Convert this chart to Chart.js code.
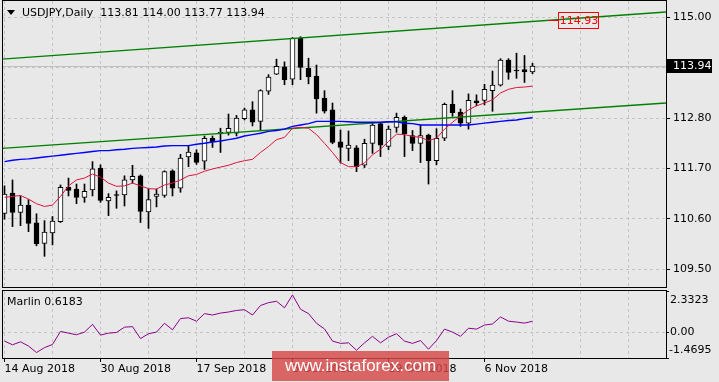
<!DOCTYPE html>
<html>
<head>
<meta charset="utf-8">
<script src="https://cdn.jsdelivr.net/npm/chart.js@4.4.1/dist/chart.umd.min.js"></script>
<style>
  html, body { margin: 0; padding: 0; background: #e8e8e8; }
  #wrap { position: relative; width: 719px; height: 382px; overflow: hidden; background: #e8e8e8; font-family: 'DejaVu Sans', sans-serif; }
  #main { position: absolute; left: 0; top: 0; }
  #osc { position: absolute; left: 0; top: 289px; }
  .txt { position: absolute; font-size: 11px; color: #000; white-space: pre; line-height: 13px; }
  #tri { position: absolute; left: 7px; top: 10px; width: 0; height: 0; border-left: 4px solid transparent; border-right: 4px solid transparent; border-top: 5px solid #000; }
  #wm { position: absolute; left: 272px; top: 351px; width: 177px; height: 30px; background: rgba(214, 72, 72, 0.82);
        color: #fff; font-family: 'Liberation Sans', sans-serif; font-size: 17px; line-height: 30px; text-align: center; }
</style>
</head>
<body>
<div id="wrap">
  <canvas id="main" width="719" height="289"></canvas>
  <canvas id="osc" width="719" height="93"></canvas>
  <div id="tri"></div>
  <div class="txt" id="title" style="left:22px; top:6px;"></div>
  <div class="txt" id="oscTitle" style="left:7px; top:295px;"></div>
  <div id="wm">www.instaforex.com</div>
</div>
<script>
// USDJPY daily candles, 14 Aug 2018 .. 14 Nov 2018
const opens  = [110.72,111.16,110.74,110.90,110.51,110.06,110.29,110.54,111.29,111.25,111.07,111.23,111.71,110.99,111.12,111.12,111.45,111.54,110.75,111.09,
                111.11,111.65,111.27,111.95,112.04,111.86,112.36,112.46,112.49,112.47,112.79,112.98,112.73,113.39,113.76,113.92,113.65,114.55,113.89,113.72,
                113.24,112.98,112.28,112.14,112.15,111.77,112.25,112.68,112.18,112.60,112.82,112.42,112.25,112.43,111.87,112.36,113.10,112.93,112.69,113.18,
                113.19,113.40,113.52,114.07,113.84,113.86,113.81];
const highs  = [111.32,111.45,111.10,111.02,110.71,110.56,110.65,111.34,111.49,111.36,111.36,111.85,111.78,111.15,111.21,111.54,111.77,111.56,111.25,111.25,
                111.65,111.67,112.01,112.20,112.11,112.41,112.41,112.58,112.89,112.86,113.02,113.16,113.42,113.75,114.09,114.03,114.56,114.58,114.11,113.96,
                113.40,113.13,112.54,112.52,112.20,112.34,112.71,112.70,112.63,112.91,112.85,112.53,112.65,112.45,112.57,113.13,113.40,113.00,113.33,113.31,
                113.54,113.83,114.10,114.10,114.22,114.17,114.00];
const lows   = [110.59,110.43,110.45,110.32,110.01,109.78,110.03,110.52,111.10,110.93,110.96,111.10,110.96,110.67,110.83,110.88,111.38,110.52,110.39,110.86,
                111.07,111.10,111.18,111.74,111.79,111.68,112.16,112.05,112.43,112.41,112.76,112.63,112.54,113.32,113.75,113.53,113.53,113.64,113.55,112.91,
                112.91,112.24,111.82,111.87,111.63,111.72,112.03,111.96,112.11,112.49,111.96,112.09,111.83,111.36,111.78,112.31,112.84,112.62,112.56,113.07,
                113.09,112.95,113.50,113.65,113.67,113.58,113.77];
const closes = [111.14,110.74,110.90,110.50,110.05,110.31,110.55,111.29,111.22,111.07,111.20,111.69,111.00,111.07,111.11,111.45,111.53,110.76,111.02,111.14,
                111.63,111.27,111.93,112.06,111.83,112.36,112.28,112.49,112.58,112.80,112.98,112.71,113.40,113.70,113.93,113.64,114.55,113.91,113.70,113.22,
                112.95,112.27,112.16,112.21,111.74,112.25,112.65,112.21,112.56,112.82,112.46,112.25,112.42,111.87,112.36,113.10,112.92,112.69,113.19,113.14,
                113.43,113.52,114.07,113.80,113.83,113.81,113.94];

// moving averages drawn on the price panel
const maFast = [111.07,111.09,111.11,111.03,110.93,110.87,110.90,111.09,111.32,111.45,111.49,111.58,111.51,111.38,111.31,111.32,111.38,111.32,111.26,111.25,
                111.34,111.38,111.45,111.54,111.57,111.64,111.69,111.73,111.77,111.83,111.87,111.90,112.05,112.18,112.33,112.38,112.58,112.60,112.58,112.44,
                112.25,112.05,111.83,111.74,111.74,111.82,112.00,112.12,112.29,112.45,112.44,112.40,112.38,112.31,112.36,112.56,112.71,112.85,112.98,113.07,
                113.13,113.20,113.35,113.43,113.47,113.48,113.50];
const maSlow = [111.85,111.88,111.90,111.91,111.93,111.95,111.97,111.99,112.01,112.03,112.05,112.07,112.09,112.09,112.11,112.12,112.14,112.15,112.16,112.17,
                112.19,112.20,112.20,112.20,112.23,112.25,112.28,112.30,112.33,112.36,112.41,112.44,112.47,112.51,112.53,112.56,112.62,112.65,112.68,112.73,
                112.73,112.73,112.73,112.72,112.71,112.71,112.71,112.71,112.72,112.72,112.69,112.68,112.65,112.65,112.65,112.65,112.65,112.65,112.65,112.67,
                112.69,112.71,112.73,112.75,112.76,112.79,112.81];

// trend channel (price at left and right edge of the panel)
const channelUpper = [114.09, 115.12];
const channelLower = [112.14, 113.13];
const levelLabel = 114.93;

// Marlin oscillator
const marlin = [-0.51,-0.72,-0.55,-0.79,-1.16,-0.88,-0.70,0.04,-0.06,-0.15,0.00,0.44,-0.17,-0.06,-0.02,0.28,0.31,-0.37,-0.09,0.00,
                0.50,0.13,0.77,0.81,0.62,1.05,0.97,1.08,1.14,1.23,1.27,0.97,1.51,1.67,1.75,1.38,2.11,1.30,1.05,0.50,
                0.18,-0.51,-0.64,-0.61,-1.03,-0.61,-0.24,-0.61,-0.29,-0.09,-0.51,-0.64,-0.48,-0.97,-0.48,0.17,0.00,-0.24,0.22,0.17,
                0.40,0.46,0.86,0.62,0.57,0.51,0.6183];
const marlinMin = -1.4695, marlinMax = 2.3323;

const priceTicks = [109.5, 110.6, 111.7, 112.8, 113.9, 115.0];
const dateLabels = ['14 Aug 2018', '30 Aug 2018', '17 Sep 2018', '3 Oct 2018', '19 Oct 2018', '6 Nov 2018'];
const dateIndex  = [0, 12, 24, 36, 48, 60];

const xMin = -0.3125, xMax = 82.6875;
const gridTicks = [];
for (let v = 0; v <= 78; v += 6) gridTicks.push({ value: v });

const last = closes.length - 1;
document.getElementById('title').textContent =
  'USDJPY,Daily  ' + opens[last].toFixed(2) + ' ' + highs[last].toFixed(2) + ' ' + lows[last].toFixed(2) + ' ' + closes[last].toFixed(2);
document.getElementById('oscTitle').textContent = 'Marlin ' + marlin[last].toFixed(4);

Chart.defaults.font.family = "'DejaVu Sans', sans-serif";
Chart.defaults.font.size = 11;
Chart.defaults.color = '#000';

const GRID = '#c4c4c4';
const idx = opens.map((_, i) => i);

// keep the plot area exactly where the padding says (no room reserved for edge labels)
function noPad(s) { s.paddingTop = 0; s.paddingBottom = 0; s.paddingLeft = 0; s.paddingRight = 0; }

const frame = {
  id: 'frame',
  afterDraw(chart) {
    const a = chart.chartArea, c = chart.ctx;
    c.save();
    c.strokeStyle = '#000';
    c.lineWidth = 1;
    c.strokeRect(a.left + 0.5, a.top - 0.5, a.right - a.left, a.bottom - a.top + 1);
    c.restore();
  }
};

const priceMarks = {
  id: 'priceMarks',
  beforeDatasetsDraw(chart) {
    const a = chart.chartArea, c = chart.ctx;
    const y = Math.round(chart.scales.y.getPixelForValue(closes[last])) + 0.5;
    c.save();
    c.strokeStyle = '#c0c0c0';
    c.lineWidth = 1;
    c.beginPath(); c.moveTo(a.left, y); c.lineTo(a.right, y); c.stroke();
    c.restore();
  },
  afterDraw(chart) {
    const a = chart.chartArea, c = chart.ctx, sy = chart.scales.y, sx = chart.scales.x;
    c.save();
    // last price box
    const y = Math.round(sy.getPixelForValue(closes[last]));
    c.fillStyle = '#000';
    c.fillRect(a.right + 1, y - 7, 45, 14);
    c.fillStyle = '#fff';
    c.font = "11px 'DejaVu Sans'";
    c.textBaseline = 'middle';
    c.fillText(closes[last].toFixed(2), a.right + 7, y + 0.5);
    // trend line price label
    const ly = Math.round(sy.getPixelForValue(levelLabel));
    const lx = Math.round(sx.getPixelForValue(71.8));
    c.strokeStyle = '#ff0000';
    c.lineWidth = 1;
    c.beginPath(); c.moveTo(lx - 31, ly - 0.5); c.lineTo(lx - 20, ly - 0.5); c.stroke();
    c.strokeRect(lx - 20.5, ly - 8.5, 40, 16);
    c.fillStyle = '#ff0000';
    c.textAlign = 'center';
    c.fillText(levelLabel.toFixed(2), lx, ly);
    c.restore();
  }
};

new Chart(document.getElementById('main').getContext('2d'), {
  type: 'bar',
  data: {
    datasets: [
      { type: 'line', data: [{ x: xMin, y: channelUpper[0] }, { x: xMax, y: channelUpper[1] }], borderColor: '#008000', borderWidth: 1.4, pointRadius: 0, order: 3 },
      { type: 'line', data: [{ x: xMin, y: channelLower[0] }, { x: xMax, y: channelLower[1] }], borderColor: '#008000', borderWidth: 1.4, pointRadius: 0, order: 3 },
      { type: 'line', data: idx.map(i => ({ x: i, y: maSlow[i] })), borderColor: '#0000ff', borderWidth: 1.4, pointRadius: 0, order: 2 },
      { type: 'line', data: idx.map(i => ({ x: i, y: maFast[i] })), borderColor: '#dc143c', borderWidth: 1, pointRadius: 0, order: 1 },
      { type: 'bar', data: idx.map(i => ({ x: i, y: [lows[i], highs[i]] })), backgroundColor: '#000', barThickness: 1, grouped: false, order: 10 },
      { type: 'bar', data: idx.map(i => ({ x: i, y: [opens[i], closes[i]] })),
        backgroundColor: ctx => closes[ctx.dataIndex] > opens[ctx.dataIndex] ? '#ffffff' : '#000000',
        borderColor: '#000', borderWidth: 1, borderSkipped: false, barThickness: 5, minBarLength: 1, grouped: false, order: 9 }
    ]
  },
  options: {
    responsive: false,
    animation: false,
    events: [],
    layout: { padding: { left: 2, right: 0, top: 1, bottom: 2 } },
    plugins: { legend: { display: false }, tooltip: { enabled: false } },
    scales: {
      x: {
        type: 'linear', min: xMin, max: xMax, offset: false,
        afterBuildTicks: s => { s.ticks = gridTicks.map(t => ({ value: t.value })); },
        afterFit: s => { s.height = 0; noPad(s); },
        ticks: { display: false },
        grid: { color: GRID, drawTicks: false, offset: false },
        border: { display: false, dash: [3, 3] }
      },
      y: {
        type: 'linear', position: 'right', min: 109.11, max: 115.36,
        afterBuildTicks: s => { s.ticks = priceTicks.map(v => ({ value: v })); },
        afterFit: s => { s.width = 53; noPad(s); },
        ticks: { padding: 3, callback: v => (v === 113.9 ? '' : v.toFixed(2)) },
        grid: { color: GRID, tickColor: '#000', tickLength: 4 },
        border: { display: false, dash: [3, 3] }
      }
    }
  },
  plugins: [priceMarks, frame]
});

const oscLabels = {
  id: 'oscLabels',
  afterDraw(chart) {
    const a = chart.chartArea, c = chart.ctx, sy = chart.scales.y;
    c.save();
    c.fillStyle = '#000';
    c.font = "11px 'DejaVu Sans'";
    c.textBaseline = 'middle';
    c.fillText(marlinMax.toFixed(4), a.right + 4, a.top + 9);
    c.fillText('0.00', a.right + 4, sy.getPixelForValue(0) + 0.5);
    c.fillText(marlinMin.toFixed(4), a.right + 3, a.bottom - 8);
    c.restore();
  }
};

new Chart(document.getElementById('osc').getContext('2d'), {
  type: 'line',
  data: {
    datasets: [
      { data: idx.map(i => ({ x: i, y: marlin[i] })), borderColor: '#8b008b', borderWidth: 1, pointRadius: 0 }
    ]
  },
  options: {
    responsive: false,
    animation: false,
    events: [],
    layout: { padding: { left: 2, right: 0, top: 2, bottom: 0 } },
    plugins: { legend: { display: false }, tooltip: { enabled: false } },
    scales: {
      x: {
        type: 'linear', min: xMin, max: xMax, offset: false,
        afterBuildTicks: s => { s.ticks = gridTicks.map(t => ({ value: t.value })); },
        afterFit: s => { s.height = 24; noPad(s); },
        ticks: {
          autoSkip: false, maxRotation: 0, align: 'start', padding: 1,
          callback: v => { const k = dateIndex.indexOf(v); return k >= 0 ? dateLabels[k] : ''; }
        },
        grid: {
          color: GRID, offset: false, tickLength: 4,
          tickColor: ctx => (ctx.tick && dateIndex.includes(ctx.tick.value) ? '#000' : 'rgba(0,0,0,0)')
        },
        border: { display: false, dash: [3, 3] }
      },
      y: {
        type: 'linear', position: 'right', min: marlinMin, max: marlinMax,
        afterBuildTicks: s => { s.ticks = [marlinMin, 0, marlinMax].map(v => ({ value: v })); },
        afterFit: s => { s.width = 53; noPad(s); },
        ticks: { display: false },
        grid: {
          color: ctx => (ctx.tick && ctx.tick.value === 0 ? GRID : 'rgba(0,0,0,0)'),
          tickColor: '#000', tickLength: 3
        },
        border: { display: false, dash: [3, 3] }
      }
    }
  },
  plugins: [oscLabels, frame]
});
</script>
</body>
</html>
